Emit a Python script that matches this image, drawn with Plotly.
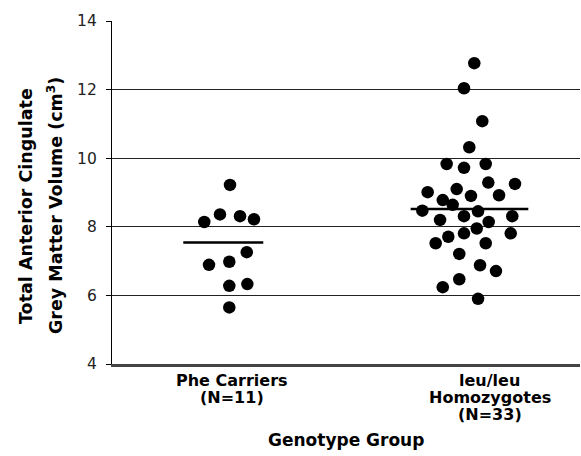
import plotly.graph_objects as go

# ---- data ----
phe_x = [1.00, 0.915, 1.085, 0.782, 1.203, 1.142, 0.822, 0.994, 0.994, 1.147, 0.994]
phe_y = [9.22, 8.36, 8.31, 8.14, 8.22, 7.26, 6.89, 6.98, 6.28, 6.33, 5.65]

leu_x = [3.070, 2.983, 3.138, 3.028, 2.836, 2.983, 3.167, 2.675, 2.921, 3.189, 3.415,
         3.042, 3.280, 2.803, 2.887, 2.630, 3.102, 2.780, 2.983, 3.392, 3.192, 3.091,
         2.983, 2.850, 3.379, 2.743, 3.167, 2.943, 3.119, 3.254, 2.943, 2.803, 3.102]
leu_y = [12.77, 12.04, 11.08, 10.32, 9.83, 9.72, 9.83, 9.01, 9.10, 9.29, 9.25,
         8.90, 8.92, 8.78, 8.64, 8.47, 8.45, 8.20, 8.31, 8.31, 8.14, 7.95,
         7.81, 7.71, 7.81, 7.52, 7.52, 7.21, 6.88, 6.71, 6.47, 6.24, 5.90]

group_means = [7.54, 8.52]
mean_spans = [[0.604, 1.282], [2.531, 3.528]]

category_labels = [["Phe Carriers", "(N=11)"],
                   ["leu/leu", "Homozygotes", "(N=33)"]]
category_label_x = [1.017, 3.20]

y_ticks = [4, 6, 8, 10, 12, 14]
y_title_lines = ["Total Anterior Cingulate", "Grey Matter Volume (cm<sup>3</sup>)"]
x_title = "Genotype Group"

FONT = "DejaVu Sans"
PLOT_TOP, PLOT_BOTTOM, PLOT_LEFT, PLOT_W = 21, 364, 112, 468


def py(pixel_y):
    return (PLOT_BOTTOM - pixel_y) / (PLOT_BOTTOM - PLOT_TOP)


def px(pixel_x):
    return (pixel_x - PLOT_LEFT) / PLOT_W


fig = go.Figure()

for (x0, x1), m in zip(mean_spans, group_means):
    fig.add_trace(go.Scatter(x=[x0, x1], y=[m, m], mode="lines",
                             line=dict(color="black", width=2.5),
                             showlegend=False, hoverinfo="skip"))

for xs, ys in [(phe_x, phe_y), (leu_x, leu_y)]:
    fig.add_trace(go.Scatter(x=xs, y=ys, mode="markers",
                             marker=dict(color="black", size=12.5,
                                         line=dict(width=0)),
                             showlegend=False))

annotations = []
for lines, lx in zip(category_labels, category_label_x):
    for i, line in enumerate(lines):
        annotations.append(dict(text="<b>" + line + "</b>", x=lx, xref="x",
                                y=py(381 + 16.5 * i), yref="paper",
                                xanchor="center", yanchor="middle",
                                showarrow=False,
                                font=dict(family=FONT, size=16, color="black")))

annotations.append(dict(text="<b>" + x_title + "</b>", x=0.5, xref="paper",
                        y=py(440), yref="paper", xanchor="center",
                        yanchor="middle", showarrow=False,
                        font=dict(family=FONT, size=17, color="black")))

for i, line in enumerate(y_title_lines):
    annotations.append(dict(text="<b>" + line + "</b>", x=px(26 + 29 * i),
                            xref="paper", y=py(206), yref="paper",
                            xanchor="center", yanchor="middle",
                            showarrow=False, textangle=-90,
                            font=dict(family=FONT, size=17.5, color="black")))

fig.update_layout(
    width=581, height=456,
    margin=dict(l=PLOT_LEFT, r=581 - PLOT_LEFT - PLOT_W, t=PLOT_TOP,
                b=456 - PLOT_BOTTOM),
    paper_bgcolor="white", plot_bgcolor="white",
    annotations=annotations,
    hovermode=False,
    xaxis=dict(range=[0, 3.966], showgrid=False, zeroline=False,
               showticklabels=False, ticks="", showline=True,
               linecolor="#444", linewidth=2.5, fixedrange=True),
    yaxis=dict(range=[4, 14], tickvals=y_ticks, showgrid=True,
               gridcolor="#222", gridwidth=1.2, zeroline=False,
               showline=True, linecolor="black", linewidth=1.2,
               ticks="outside", ticklen=5, tickcolor="black", tickwidth=1.2,
               ticklabelstandoff=6, fixedrange=True,
               tickfont=dict(family=FONT, size=15.5, color="#222")),
    font=dict(family=FONT),
)

fig.write_html("out.html", config={"displayModeBar": False},
               post_script="document.body.style.margin='0';")
